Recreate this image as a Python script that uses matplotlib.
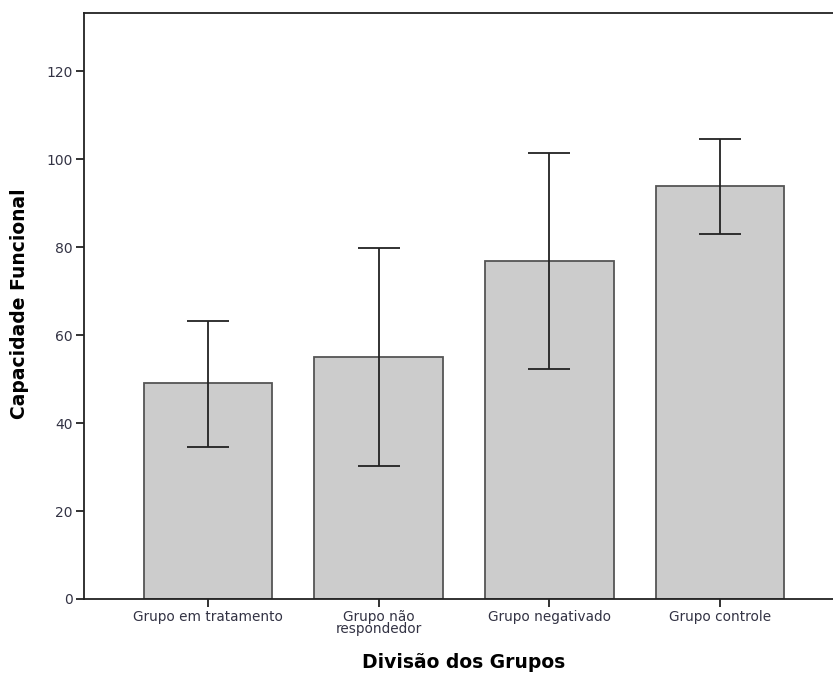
import matplotlib
matplotlib.use("Agg")
import matplotlib.pyplot as plt
import numpy as np

# dados
grupos = ["Grupo em tratamento", "Grupo não\nrespondedor", "Grupo negativado", "Grupo controle"]
medias = [49.0, 54.9, 76.8, 93.9]
erro_inf = [34.6, 30.2, 52.3, 83.0]
erro_sup = [63.2, 79.8, 101.3, 104.6]
yticks = [0, 20, 40, 60, 80, 100, 120]

medias = np.array(medias)
yerr = np.array([medias - np.array(erro_inf), np.array(erro_sup) - medias])

fig = plt.figure(figsize=(8.33, 6.74), dpi=100)
ax = fig.add_axes([84 / 833, 1 - 599 / 674, 760 / 833, 586.5 / 674])

x = np.arange(len(grupos))
ax.bar(x, medias, width=0.754, color="#cccccc", edgecolor="#555555", linewidth=1.3, zorder=2)
ax.errorbar(x, medias, yerr=yerr, fmt="none", ecolor="#222222", elinewidth=1.3,
            capsize=15, capthick=1.3, zorder=3)

ax.set_xlim(-0.726, 3.726)
ax.set_ylim(0, 133.3)
ax.set_xticks(x)
ax.set_xticklabels(grupos, fontsize=9.8, color="#333344", linespacing=0.85)
ax.set_yticks(yticks)
ax.set_yticklabels([str(v) for v in yticks], fontsize=10, color="#333344")
ax.tick_params(axis="both", direction="out", length=6, width=1.3, color="#222222", pad=2)

for s in ["left", "bottom", "top"]:
    ax.spines[s].set_linewidth(1.3)
    ax.spines[s].set_color("#222222")
ax.spines["right"].set_visible(False)

fig.text(464 / 833, 1 - 662 / 674, "Divisão dos Grupos", ha="center", va="center",
         fontsize=13.5, fontweight="bold")
fig.text(20 / 833, 1 - 304 / 674, "Capacidade Funcional", ha="center", va="center",
         rotation=90, fontsize=13.5, fontweight="bold")

plt.savefig("out.png", dpi=100)
